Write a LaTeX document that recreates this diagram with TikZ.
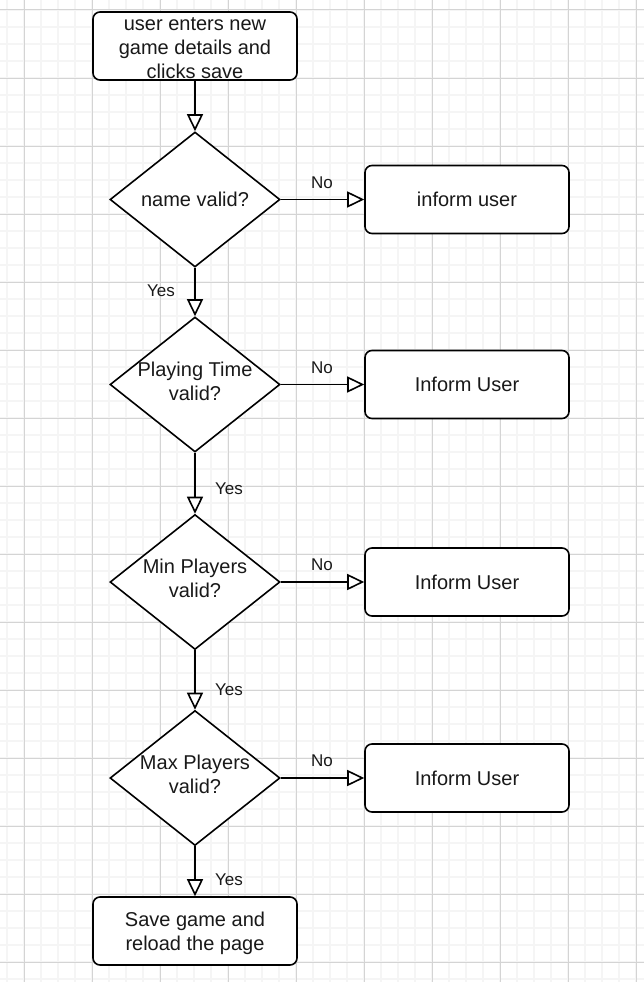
\documentclass[tikz,border=0pt]{standalone}
\usepackage{fontspec}
\setmainfont{Liberation Sans}
\usetikzlibrary{shapes.geometric,arrows.meta}
\begin{document}
\begin{tikzpicture}[x=1pt,y=-1pt,
  every node/.style={font=\fontsize{20}{24}\selectfont, text=black!90},
  procbox/.style={draw, line width=1.6pt, rounded corners=7pt, minimum width=204pt, minimum height=68pt, align=center, inner sep=0pt, fill=white},
  decbox/.style={draw, diamond, line width=1.6pt, minimum width=170pt, minimum height=135pt, inner sep=0pt, fill=white},
  dectext/.style={align=center, font=\fontsize{20}{24}\selectfont},
  conn/.style={line width=1.6pt, -{Triangle[length=17pt,width=16pt,fill=white]}},
  lbl/.style={font=\fontsize{17}{20}\selectfont, inner sep=0pt}
]
\useasboundingbox (0,0) rectangle (644,982);
\fill[white] (0,0) rectangle (644,982);
% grid
\foreach \x in {7,24,...,644} \draw[black!4, line width=2pt] (\x,0) -- (\x,982);
\foreach \y in {10,27,...,982} \draw[black!4, line width=2pt] (0,\y) -- (644,\y);
\foreach \x in {24,92,...,644} \draw[black!17, line width=1pt] (\x,0) -- (\x,982);
\foreach \y in {10,78,...,982} \draw[black!17, line width=1pt] (0,\y) -- (644,\y);

% nodes
\node[procbox] (start) at (195,46) {};
\node[dectext] (ts) at ([yshift=-2pt]start.center) {user enters new\\game details and\\clicks save};
\node[decbox] (d1) at (195,199.5) {};
\node[dectext] (t1) at (d1.center) {name valid?};
\node[decbox] (d2) at (195,384.5) {};
\node[dectext] (t2) at ([yshift=3.5pt]d2.center) {Playing Time\\valid?};
\node[decbox] (d3) at (195,582) {};
\node[dectext] (t3) at ([yshift=3.5pt]d3.center) {Min Players\\valid?};
\node[decbox] (d4) at (195,778) {};
\node[dectext] (t4) at ([yshift=3.5pt]d4.center) {Max Players\\valid?};

\node[procbox] (r1) at (467,199.5) {inform user};
\node[procbox] (r2) at (467,384.5) {Inform User};
\node[procbox] (r3) at (467,582) {Inform User};
\node[procbox] (r4) at (467,778) {Inform User};

\node[procbox] (save) at (195,931) {};
\node[dectext] (tv) at ([yshift=-2pt]save.center) {Save game and\\reload the page};

% connectors
\draw[conn] (start.south) -- (d1.north);
\draw[conn] (d1.south) -- (d2.north);
\draw[conn] (d2.south) -- (d3.north);
\draw[conn] (d3.south) -- (d4.north);
\draw[conn] (d4.south) -- (save.north);
\draw[conn] (d1.east) -- (r1.west);
\draw[conn] (d2.east) -- (r2.west);
\draw[conn] (d3.east) -- (r3.west);
\draw[conn] (d4.east) -- (r4.west);

% labels
\node[lbl] (n1) at (322,183) {No};
\node[lbl] (n2) at (322,368) {No};
\node[lbl] (n3) at (322,565) {No};
\node[lbl] (n4) at (322,761) {No};
\node[lbl] (y1) at (161,291) {Yes};
\node[lbl] (y2) at (229,489) {Yes};
\node[lbl] (y3) at (229,690) {Yes};
\node[lbl] (y4) at (229,880) {Yes};
\end{tikzpicture}
\end{document}
